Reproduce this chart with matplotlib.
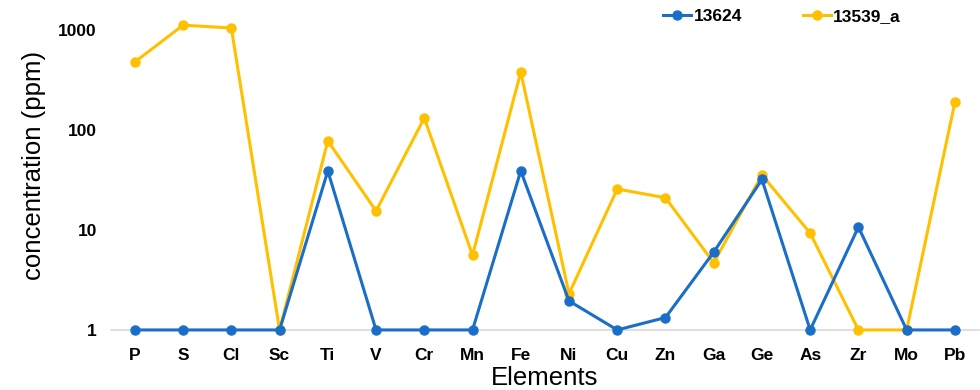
import matplotlib.pyplot as plt

plt.rcParams['font.family'] = ['Liberation Sans', 'DejaVu Sans']

# Element categories and concentrations (ppm)
elements = ['P', 'S', 'Cl', 'Sc', 'Ti', 'V', 'Cr', 'Mn', 'Fe', 'Ni',
            'Cu', 'Zn', 'Ga', 'Ge', 'As', 'Zr', 'Mo', 'Pb']
sample_13624 = [1, 1, 1, 1, 39, 1, 1, 1, 39, 1.95,
                1, 1.33, 6, 32, 1, 10.7, 1, 1]
sample_13539_a = [480, 1120, 1050, 1, 78, 15.5, 132, 5.6, 380, 2.3,
                  25.7, 21, 4.7, 35.5, 9.3, 1, 1, 190]

fig = plt.figure(figsize=(9.8, 3.9), dpi=100)
ax = fig.add_axes([0.113, 0.154, 0.886, 0.846])

x = range(len(elements))
ax.plot(x, sample_13624, color='#1B6EC8', lw=2.2, marker='o', ms=6.5,
        label='13624', zorder=3, clip_on=False)
ax.plot(x, sample_13539_a, color='#FFC000', lw=2.2, marker='o', ms=6.5,
        label='13539_a', zorder=2, clip_on=False)

ax.set_yscale('log')
ax.set_ylim(1, 2000)
ax.set_xlim(-0.5, len(elements) - 0.5)
ax.set_yticks([1, 10, 100, 1000])
ax.set_yticklabels(['1', '10', '100', '1000'])
ax.minorticks_off()
ax.set_xticks(list(x))
ax.set_xticklabels(elements)
ax.tick_params(length=0, labelsize=12.5)
ax.tick_params(axis='x', pad=13)
ax.tick_params(axis='y', pad=10)
for lab in ax.get_xticklabels() + ax.get_yticklabels():
    lab.set_fontweight('bold')

for side in ['top', 'right', 'left']:
    ax.spines[side].set_visible(False)
ax.spines['bottom'].set_color('#D9D9D9')
ax.spines['bottom'].set_linewidth(1.2)
ax.spines['bottom'].set_zorder(1)

ax.set_xlabel('Elements', fontsize=18.5, labelpad=2)
ax.set_ylabel('concentration (ppm)', fontsize=18.5, labelpad=9)

leg = ax.legend(loc='upper right', bbox_to_anchor=(0.928, 1.02), ncol=2, frameon=False,
                prop={'weight': 'bold', 'size': 12.5}, columnspacing=3.5,
                handlelength=1.6, handletextpad=0.15)

plt.savefig('out.png', dpi=100)
